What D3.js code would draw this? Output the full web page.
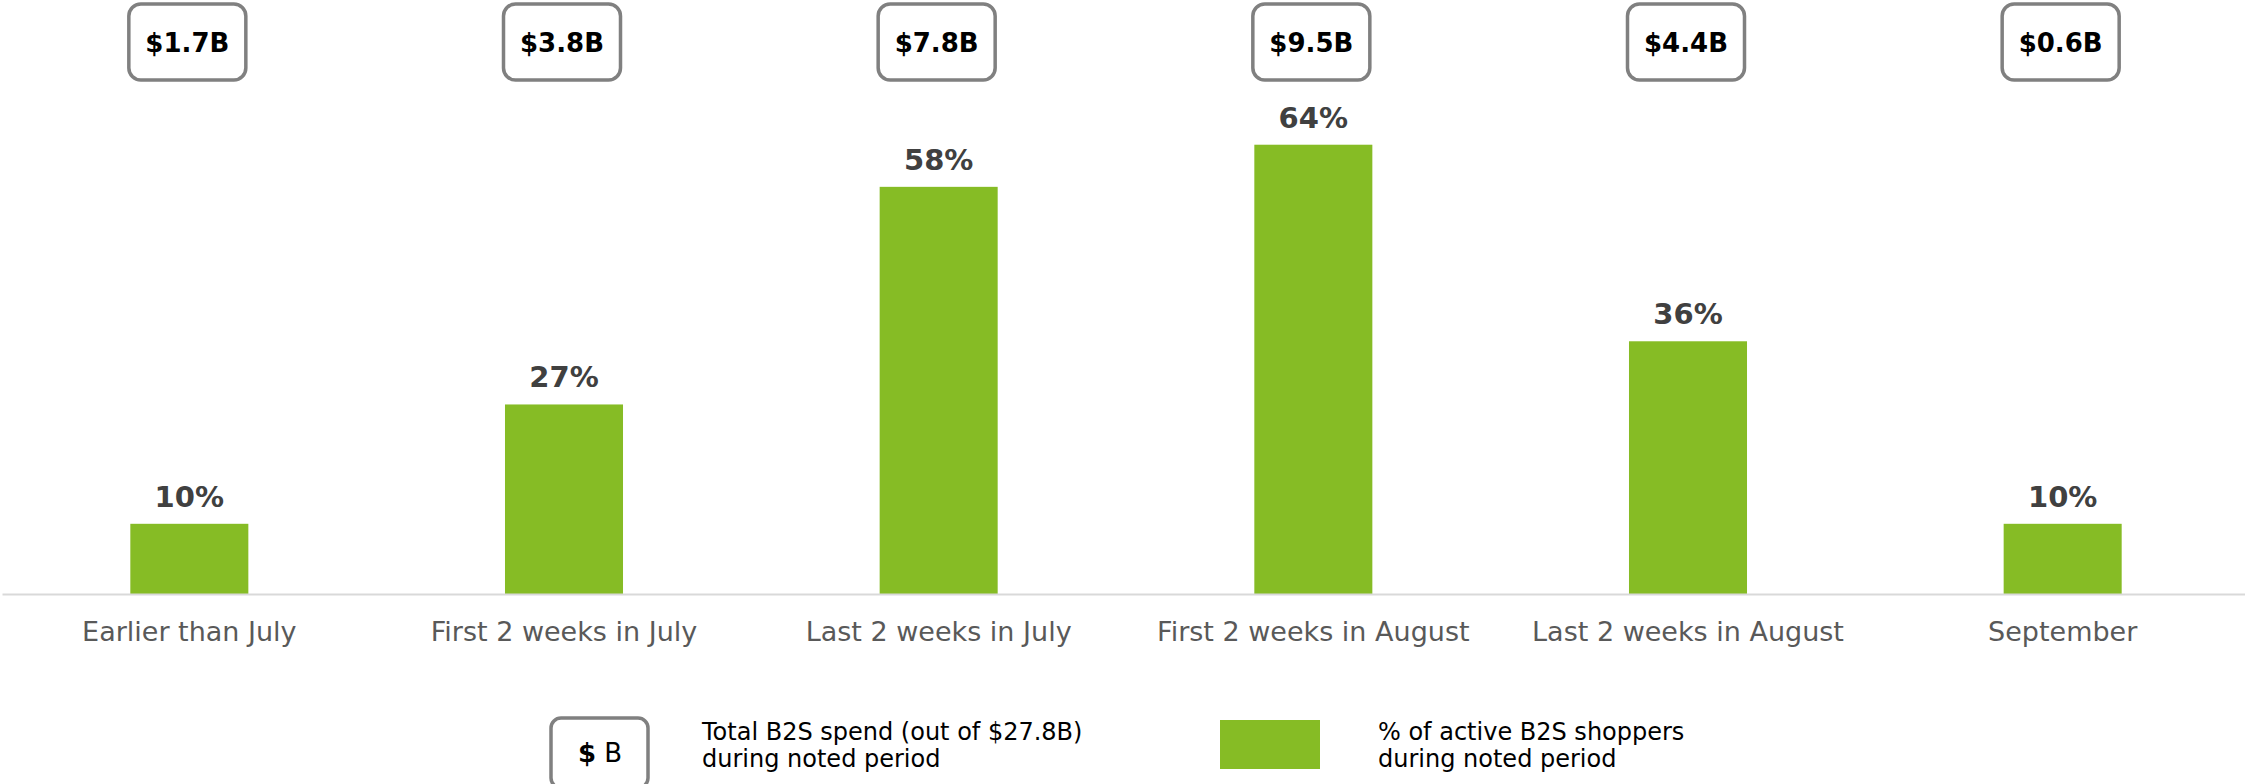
<!DOCTYPE html>
<html>
<head>
  <meta charset="utf-8">
  <title>B2S spend by period</title>
  <style>
    body { margin: 0; background: #fff; }
    svg { display: block; font-family: "DejaVu Sans", Verdana, sans-serif; }
  </style>
</head>
<body>
  <svg width="2245" height="784"></svg>
  <script src="https://cdn.jsdelivr.net/npm/d3@7"></script>
  <script>
  // data
  var periods = ["Earlier than July", "First 2 weeks in July", "Last 2 weeks in July",
                 "First 2 weeks in August", "Last 2 weeks in August", "September"];
  var shopperPct = [10, 27, 58, 64, 36, 10];
  var spendLabels = ["$1.7B", "$3.8B", "$7.8B", "$9.5B", "$4.4B", "$0.6B"];
  var legendItems = [
    ["Total B2S spend (out of $27.8B)", "during noted period"],
    ["% of active B2S shoppers", "during noted period"]
  ];

  var green = "#86bc25";
  var svg = d3.select("svg");
  var baseY = 594;

  var x = d3.scaleBand()
    .domain(periods)
    .range([2, 2250])
    .paddingInner(0.685)
    .paddingOuter(0.3425);

  var y = d3.scaleLinear()
    .domain([0, 100])
    .range([baseY, baseY - 702]);

  var rows = periods.map(function(p, i) {
    return { period: p, pct: shopperPct[i], spend: spendLabels[i] };
  });

  // bars
  svg.append("g")
    .selectAll("rect")
    .data(rows)
    .enter()
    .append("rect")
    .attr("x", function(d) { return x(d.period); })
    .attr("y", function(d) { return y(d.pct); })
    .attr("width", x.bandwidth())
    .attr("height", function(d) { return baseY - y(d.pct); })
    .attr("fill", green);

  // percent labels
  svg.append("g")
    .selectAll("text")
    .data(rows)
    .enter()
    .append("text")
    .attr("x", function(d) { return x(d.period) + x.bandwidth() / 2; })
    .attr("y", function(d) { return y(d.pct) - 17; })
    .attr("text-anchor", "middle")
    .attr("font-size", 29)
    .attr("font-weight", "bold")
    .attr("fill", "#404040")
    .text(function(d) { return d.pct + "%"; });

  // x axis
  var axis = svg.append("g")
    .attr("transform", "translate(0," + baseY + ")")
    .call(d3.axisBottom(x).tickSize(0).tickSizeOuter(0).tickPadding(28));
  axis.select(".domain").attr("stroke", "#d9d9d9").attr("stroke-width", 2);
  axis.selectAll("text")
    .attr("font-family", "DejaVu Sans, Verdana, sans-serif")
    .attr("font-size", 27)
    .attr("fill", "#595959");

  // spend boxes on top
  var boxW = 117, boxH = 76;
  var boxes = svg.append("g")
    .selectAll("g")
    .data(rows)
    .enter()
    .append("g")
    .attr("transform", function(d) {
      return "translate(" + (x(d.period) + x.bandwidth() / 2 - 2) + ",42)";
    });
  boxes.append("rect")
    .attr("x", -boxW / 2)
    .attr("y", -boxH / 2)
    .attr("width", boxW)
    .attr("height", boxH)
    .attr("rx", 12)
    .attr("fill", "#fff")
    .attr("stroke", "#808080")
    .attr("stroke-width", 3.5);
  boxes.append("text")
    .attr("text-anchor", "middle")
    .attr("y", 10)
    .attr("font-size", 26)
    .attr("font-weight", "bold")
    .attr("fill", "#000")
    .text(function(d) { return d.spend; });

  // legend
  var leg = svg.append("g");
  leg.append("rect")
    .attr("x", 551).attr("y", 718)
    .attr("width", 97).attr("height", 70)
    .attr("rx", 10)
    .attr("fill", "#fff")
    .attr("stroke", "#808080")
    .attr("stroke-width", 3.5);
  var sb = leg.append("text")
    .attr("x", 600).attr("y", 762)
    .attr("text-anchor", "middle")
    .attr("font-size", 26)
    .attr("fill", "#000");
  sb.append("tspan").attr("font-weight", "bold").text("$");
  sb.append("tspan").text(" B");

  leg.append("rect")
    .attr("x", 1220).attr("y", 720)
    .attr("width", 100).attr("height", 49)
    .attr("fill", green);

  var legX = [702, 1378];
  legendItems.forEach(function(lines, i) {
    var t = leg.append("text")
      .attr("x", legX[i])
      .attr("y", 740)
      .attr("font-size", 24)
      .attr("fill", "#000");
    lines.forEach(function(line, j) {
      t.append("tspan")
        .attr("x", legX[i])
        .attr("dy", j === 0 ? 0 : 27)
        .text(line);
    });
  });
  </script>
</body>
</html>
